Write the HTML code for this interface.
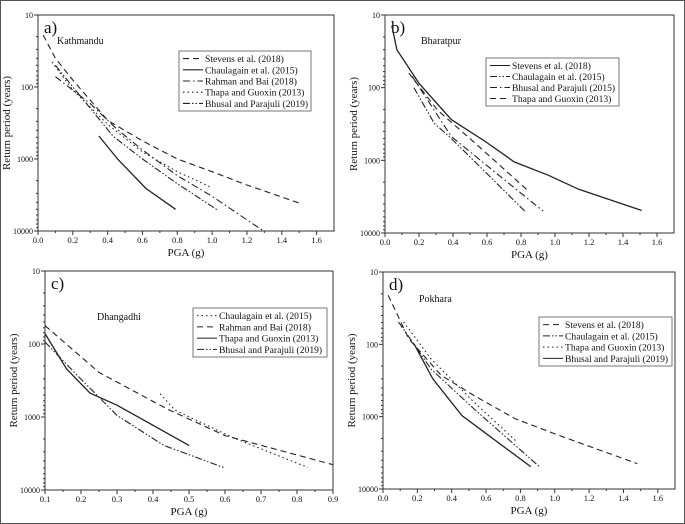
<!DOCTYPE html>
<html><head><meta charset="utf-8">
<style>
html,body{margin:0;padding:0;background:#fff;}
svg{display:block;font-family:"Liberation Serif",serif;}
text{font-family:"Liberation Serif",serif;}
</style></head>
<body>
<svg id="fig" width="685" height="524" viewBox="0 0 685 524" xmlns="http://www.w3.org/2000/svg" font-family="Liberation Serif, serif">
<rect x="0.5" y="0.5" width="684" height="523" fill="#fff" stroke="#555" stroke-width="1"/>
</svg>
<script>
// Panel a - Kathmandu
const aStevensX=[0.03,0.1,0.2,0.4,0.6,0.8,1.0,1.2,1.51];
const aStevensY=[19,40,80,290,560,1000,1500,2300,4170];
const aChaulX=[0.35,0.46,0.62,0.79];
const aChaulY=[480,1020,2570,5000];
const aRahmanX=[0.1,0.3,0.45,0.6,0.8,1.0,1.29];
const aRahmanY=[72,170,380,750,1700,3300,9800];
const aThapaX=[0.08,0.2,0.4,0.6,0.8,0.99];
const aThapaY=[45,110,330,800,1500,2450];
const aBhusalX=[0.1,0.25,0.43,0.6,0.8,1.03];
const aBhusalY=[50,140,480,1000,2200,5100];
// Panel b - Bharatpur
const bStevensX=[0.04,0.07,0.2,0.39,0.59,0.76,0.96,1.14,1.51];
const bStevensY=[14,30,87,275,550,1050,1600,2500,4900];
const bChaulX=[0.17,0.29,0.39,0.53,0.83];
const bChaulY=[100,310,500,1050,5200];
const bBhusalX=[0.16,0.39,0.63,0.93];
const bBhusalY=[70,470,1350,5000];
const bThapaX=[0.14,0.31,0.53,0.84];
const bThapaY=[63,205,580,2600];
// Panel c - Dhangadhi
const cChaulX=[0.42,0.46,0.62,0.83];
const cChaulY=[480,800,1900,4900];
const cRahmanX=[0.1,0.25,0.44,0.6,0.9];
const cRahmanY=[56,245,780,1800,4500];
const cThapaX=[0.1,0.16,0.225,0.3,0.5];
const cThapaY=[72,220,470,690,2450];
const cBhusalX=[0.1,0.19,0.3,0.43,0.6];
const cBhusalY=[94,270,950,2450,5000];
// Panel d - Pokhara
const dStevensX=[0.03,0.15,0.34,0.53,0.77,1.02,1.48];
const dStevensY=[21,84,270,510,1070,1800,4450];
const dChaulX=[0.09,0.28,0.53,0.91];
const dChaulY=[49,220,780,4900];
const dThapaX=[0.12,0.28,0.53,0.78];
const dThapaY=[49,160,630,2230];
const dBhusalX=[0.18,0.29,0.46,0.86];
const dBhusalY=[98,300,970,4900];
const xTicksA=[0,0.2,0.4,0.6,0.8,1.0,1.2,1.4,1.6];
const xTicksC=[0.1,0.2,0.3,0.4,0.5,0.6,0.7,0.8,0.9];
const yTicks=[10,100,1000,10000];

const NS="http://www.w3.org/2000/svg";
const svg=document.getElementById('fig');
const DASH={solid:"",dash:"6,4",dashdot:"7,3,1.5,3",dashdotdot:"7,2,1.5,2,1.5,2",dot:"1.5,3"};
function mk(tag,attrs,parent){const e=document.createElementNS(NS,tag);for(const k in attrs)e.setAttribute(k,attrs[k]);(parent||svg).appendChild(e);return e;}
function txt(s,x,y,size,anchor,parent,extra){const e=mk('text',Object.assign({x:x,y:y,'font-size':size,'font-family':'Liberation Serif, serif','text-anchor':anchor||'start',fill:'#111'},extra||{}),parent);e.textContent=s;return e;}

function panel(p){
  const g=mk('g',{});
  
  
  const X=v=>p.L+(v-p.x0)/(p.x1-p.x0)*(p.R-p.L);
  const Y=v=>p.T+Math.log10(v/10)/3*(p.B-p.T);
  const box=mk('rect',{x:p.L,y:p.T,width:p.R-p.L,height:p.B-p.T,fill:'none',stroke:'#333','stroke-width':1},g);
  
  
  p.xt.forEach((t,i)=>{
    const x=X(t);
    mk('line',{x1:x,x2:x,y1:p.B,y2:p.B+4,stroke:'#333'},g);
    if(i<p.xt.length-1){const xm=X(t+(p.xt[1]-p.xt[0])/2);mk('line',{x1:xm,x2:xm,y1:p.B,y2:p.B+2,stroke:'#333'},g);}
    const lab=txt(p.fmt(t),x,p.B+12,8.5,'middle',g);
    
    
  });
  yTicks.forEach((t,i)=>{
    const y=Y(t);
    mk('line',{x1:p.L-4,x2:p.L,y1:y,y2:y,stroke:'#333'},g);
    if(i<3){for(let m=2;m<10;m++){const ym=Y(t*m);mk('line',{x1:p.L-2,x2:p.L,y1:ym,y2:ym,stroke:'#333'},g);}}
    const lab=txt(String(t),p.L-5,y+3,8,'end',g);
    
    
  });
  const xt=txt('PGA (g)',(p.L+p.R)/2,p.B+25,11,'middle',g);
  
  
  const yc=(p.T+p.B)/2, yx=p.L-28;
  const yt=txt('Return period (years)',yx,yc,11,'middle',g,{transform:'rotate(-90 '+yx+' '+yc+')'});
  
  
  const pl=txt(p.id+')',p.L+6,p.T+18,17,'start',g);
  
  
  const city=txt(p.city,p.cx,p.cy,10,'start',g);
  
  
  p.series.forEach(s=>{
    const d=s.x.map((v,i)=>(i?'L':'M')+X(v).toFixed(1)+','+Y(s.y[i]).toFixed(1)).join(' ');
    const path=mk('path',{d:d,fill:'none',stroke:'#222','stroke-width':s.st=='solid'?1.3:1.1,'stroke-dasharray':DASH[s.st]},g);
    
    
  });
  const lg=mk('g',{},g);
  
  
  mk('rect',{x:p.lg[0],y:p.lg[1],width:p.lg[2],height:p.lg[3],fill:'#fff',stroke:'#555','stroke-width':0.8},lg);
  const step=(p.lg[3]-4)/p.series.length;
  p.series.forEach((s,i)=>{
    const y=p.lg[1]+2+step*(i+0.5);
    mk('line',{x1:p.lg[0]+4,x2:p.lg[0]+24,y1:y,y2:y,stroke:'#222','stroke-width':1.1,'stroke-dasharray':DASH[s.st]},lg);
    const e=txt(s.name,p.lg[0]+26,y+3.5,9.6,'start',lg);
    
    
  });
}
const f1=v=>v.toFixed(1);
panel({id:'a',city:'Kathmandu',cx:57,cy:44,L:38,R:334,T:15,B:231,x0:0,x1:1.7,xt:xTicksA,fmt:f1,lg:[179,51,132,60],
 series:[{name:'Stevens et al. (2018)',st:'dash',x:aStevensX,y:aStevensY},
 {name:'Chaulagain et al. (2015)',st:'solid',x:aChaulX,y:aChaulY},
 {name:'Rahman and Bai (2018)',st:'dashdot',x:aRahmanX,y:aRahmanY},
 {name:'Thapa and Guoxin (2013)',st:'dot',x:aThapaX,y:aThapaY},
 {name:'Bhusal and Parajuli (2019)',st:'dashdotdot',x:aBhusalX,y:aBhusalY}]});
panel({id:'b',city:'Bharatpur',cx:421,cy:44,L:385,R:674,T:15,B:233,x0:0,x1:1.7,xt:xTicksA,fmt:f1,lg:[486,58,133,48],
 series:[{name:'Stevens et al. (2018)',st:'solid',x:bStevensX,y:bStevensY},
 {name:'Chaulagain et al. (2015)',st:'dashdotdot',x:bChaulX,y:bChaulY},
 {name:'Bhusal and Parajuli (2015)',st:'dashdot',x:bBhusalX,y:bBhusalY},
 {name:'Thapa and Guoxin (2013)',st:'dash',x:bThapaX,y:bThapaY}]});
panel({id:'c',city:'Dhangadhi',cx:97,cy:320,L:45,R:333,T:271,B:490,x0:0.1,x1:0.9,xt:xTicksC,fmt:f1,lg:[193,308,134,49],
 series:[{name:'Chaulagain et al. (2015)',st:'dot',x:cChaulX,y:cChaulY},
 {name:'Rahman and Bai (2018)',st:'dash',x:cRahmanX,y:cRahmanY},
 {name:'Thapa and Guoxin (2013)',st:'solid',x:cThapaX,y:cThapaY},
 {name:'Bhusal and Parajuli (2019)',st:'dashdotdot',x:cBhusalX,y:cBhusalY}]});
panel({id:'d',city:'Pokhara',cx:419,cy:302,L:383,R:675,T:272,B:489,x0:0,x1:1.7,xt:xTicksA,fmt:f1,lg:[539,317,133,49],
 series:[{name:'Stevens et al. (2018)',st:'dash',x:dStevensX,y:dStevensY},
 {name:'Chaulagain et al. (2015)',st:'dashdotdot',x:dChaulX,y:dChaulY},
 {name:'Thapa and Guoxin (2013)',st:'dot',x:dThapaX,y:dThapaY},
 {name:'Bhusal and Parajuli (2019)',st:'solid',x:dBhusalX,y:dBhusalY}]});
</script>
</body></html>
